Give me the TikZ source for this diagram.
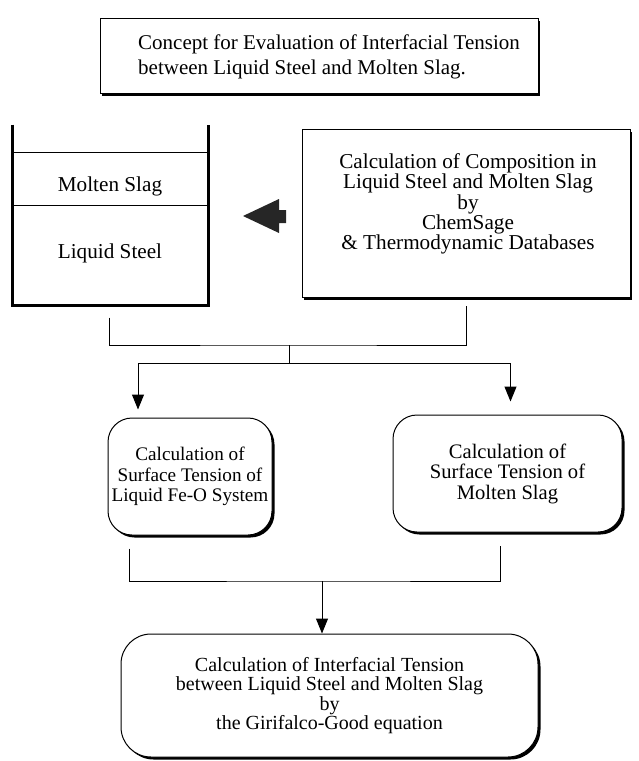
\documentclass[tikz,border=0pt]{standalone}
\usepackage{fontspec}
\setmainfont{Liberation Serif}
\usetikzlibrary{arrows.meta,shadows}
\begin{document}
\begin{tikzpicture}[x=1pt,y=-1pt,line width=1pt,
  txt/.style={font=\fontsize{21.2}{19.2}\selectfont,align=center,inner sep=0pt},
  sqbox/.style={draw,fill=white,rectangle,inner sep=0pt,
     drop shadow={shadow xshift=1.5pt,shadow yshift=-2.5pt,fill=black,opacity=1}},
  rbox/.style={draw,fill=white,rectangle,rounded corners=24pt,inner sep=0pt,
     font=\fontsize{20.6}{20.5}\selectfont,align=center,
     drop shadow={shadow xshift=2.5pt,shadow yshift=-2.5pt,fill=black,opacity=1}},
  flow/.style={line width=1pt,-{Triangle[length=15pt,width=12pt]}}]
\useasboundingbox (0,0) rectangle (638,761);

% title
\node[sqbox,minimum width=438pt,minimum height=75pt] (title) at (319,55.5) {};
\node[txt,align=left,font=\fontsize{21}{24.5}\selectfont] (titlet) at (329,57)
  {Concept for Evaluation of Interfacial Tension\\between Liquid Steel and Molten Slag.};

% beaker
\node[minimum width=195pt,minimum height=180pt,inner sep=0pt] (beaker) at (110.5,215) {};
\draw[line width=3pt] (beaker.north west) |- (beaker.south east) -- (beaker.north east);
\coordinate (s1) at (13,152);
\coordinate (s2) at (208,152);
\coordinate (i1) at (13,205);
\coordinate (i2) at (208,205);
\draw (s1) -- (s2);
\draw (i1) -- (i2);
\node[txt,anchor=base] (slagl) at (110,191) {Molten Slag};
\node[txt,anchor=base] (steell) at (110,258) {Liquid Steel};

% block arrow
\fill[black!85] (243,216) -- (279,199) -- (279,210) -- (286,210) -- (286,223)
  -- (279,223) -- (279,233) -- cycle;

% composition box
\node[sqbox,minimum width=328pt,minimum height=168pt] (comp) at (466,213) {};
\node[txt] (compt) at (468,204)
  {Calculation of Composition in\\Liquid Steel and Molten Slag\\by\\ChemSage\\\& Thermodynamic Databases};

% surface tension boxes
\node[rbox,minimum width=164pt,minimum height=117pt,
  font=\fontsize{19.2}{20.5}\selectfont] (fe) at (190,476.5)
  {Calculation of\\Surface Tension of\\Liquid Fe-O System};
\node[rbox,minimum width=229pt,minimum height=117pt] (slag) at (507.5,473.5)
  {Calculation of\\Surface Tension of\\Molten Slag};

% interfacial tension box
\node[rbox,rounded corners=30pt,minimum width=417pt,minimum height=123pt,
  font=\fontsize{20}{19.2}\selectfont] (ift) at (329.5,695.5)
  {Calculation of Interfacial Tension\\between Liquid Steel and Molten Slag\\by\\the Girifalco-Good equation};

% connectors
\coordinate (j1) at (289,345);
\coordinate (j2) at (289,363);
\coordinate (j3) at (322,581);
\draw ([xshift=-1.5pt,yshift=-12pt]beaker.south) |- (j1) -| ([yshift=-8pt]comp.south);
\draw (j1) -- (j2);
\draw[flow] (j2) -| ([xshift=-52pt,yshift=8pt]fe.north);
\draw[flow] (j2) -| ([xshift=3pt,yshift=13pt]slag.north);
\draw ([xshift=-61pt,yshift=-13pt]fe.south) |- (j3) -| ([xshift=-7pt,yshift=-13pt]slag.south);
\draw[flow] (j3) -- (ift.north -| j3);
\end{tikzpicture}
\end{document}
